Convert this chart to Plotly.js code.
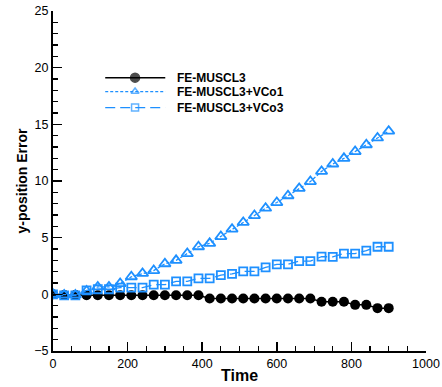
<!DOCTYPE html>
<html>
<head>
<meta charset="utf-8">
<script src="https://cdn.plot.ly/plotly-3.0.1.min.js"></script>
<style>html,body{margin:0;padding:0;background:#fff;}#chart{width:442px;height:387px;}</style>
</head>
<body>
<div id="chart"></div>
<script>
var time = [0,30,60,90,120,150,180,210,240,270,300,330,360,390,420,450,480,510,540,570,600,630,660,690,720,750,780,810,840,870,900];
var muscl3 = [0,-0.05,-0.05,-0.08,-0.08,-0.08,-0.08,-0.08,-0.08,-0.08,-0.08,-0.08,-0.08,-0.08,-0.37,-0.37,-0.37,-0.37,-0.37,-0.37,-0.37,-0.37,-0.37,-0.37,-0.65,-0.65,-0.65,-0.93,-0.93,-1.22,-1.22];
var vco1 = [0,-0.05,-0.05,0.3,0.65,0.65,0.95,1.55,1.85,2.1,2.7,3.0,3.6,4.2,4.5,5.1,5.75,6.35,6.95,7.6,8.1,8.7,9.35,9.95,10.85,11.5,12.0,12.6,13.2,13.8,14.4];
var vco3 = [0,-0.1,-0.1,0.35,0.45,0.45,0.6,0.6,0.6,0.85,0.85,1.15,1.15,1.4,1.4,1.7,1.8,2.02,2.02,2.37,2.65,2.65,2.93,2.93,3.33,3.3,3.6,3.6,3.86,4.2,4.2];
var names = ["FE-MUSCL3","FE-MUSCL3+VCo1","FE-MUSCL3+VCo3"];
var blue = "rgb(30,144,255)";

var traces = [
  {x: time, y: muscl3, mode: "lines+markers", name: names[0], showlegend: false,
   line: {color: "black", width: 1.5}, marker: {symbol: "circle", size: 10, color: "black"}},
  {x: time, y: vco1, mode: "lines+markers", name: names[1], showlegend: false,
   line: {color: blue, width: 1.3, dash: "3px,2px"},
   marker: {symbol: "triangle-up-open", size: 10, color: blue, line: {width: 1.8, color: blue}}},
  {x: time, y: vco3, mode: "lines+markers", name: names[2], showlegend: false,
   line: {color: blue, width: 1.3, dash: "10px,5px"},
   marker: {symbol: "square-open", size: 8, color: blue, line: {width: 1.8, color: blue}}}
];

// custom legend (paper coordinates of plot area)
var legX0 = 0.140, legX1 = 0.301, legXm = 0.220, legXt = 0.328;
var legY = [0.804, 0.763, 0.716];
var legDash = ["solid", "3px,2px", "10px,5px"];
var legColor = ["black", blue, blue];
var legSym = ["circle", "triangle-up-open", "square-open"];
var legSize = [9, 7, 7];

traces.push({
  x: [legXm, legXm, legXm], y: legY, xaxis: "x2", yaxis: "y2", mode: "markers",
  showlegend: false, hoverinfo: "skip",
  marker: {symbol: legSym, size: legSize, color: legColor, line: {width: 1.5, color: legColor}}
});

var shapes = [], annotations = [];
for (var i = 0; i < 3; i++) {
  shapes.push({type: "line", xref: "paper", yref: "paper", x0: legX0, x1: legX1, y0: legY[i], y1: legY[i],
    line: {color: legColor[i], width: i === 0 ? 1.5 : 1.3, dash: legDash[i]}});
  annotations.push({xref: "paper", yref: "paper", x: legXt, y: legY[i], xanchor: "left", yanchor: "middle",
    text: "<b>" + names[i] + "</b>", showarrow: false,
    font: {family: "Liberation Sans, Arial, sans-serif", size: 12, color: "black"}});
}

var layout = {
  width: 442, height: 387,
  margin: {l: 52.7, r: 16, t: 11, b: 35.7, pad: 0},
  paper_bgcolor: "white", plot_bgcolor: "white",
  font: {family: "Liberation Sans, Arial, sans-serif", size: 13, color: "black"},
  showlegend: false,
  xaxis: {
    range: [0, 1000], dtick: 200, tick0: 0,
    ticks: "inside", ticklen: 9, tickwidth: 1.5, tickcolor: "black",
    showline: true, linecolor: "black", linewidth: 2,
    showgrid: false, zeroline: false,
    minor: {dtick: 50, ticks: "inside", ticklen: 5, tickwidth: 1.2, tickcolor: "black"},
    title: {text: "<b>Time</b>", font: {size: 16}, standoff: 0},
    tickfont: {size: 12.5}
  },
  yaxis: {
    range: [-5, 25], dtick: 5, tick0: 0,
    ticks: "inside", ticklen: 9, tickwidth: 1.5, tickcolor: "black",
    showline: true, linecolor: "black", linewidth: 2,
    showgrid: false, zeroline: false,
    minor: {dtick: 1, ticks: "inside", ticklen: 5, tickwidth: 1.2, tickcolor: "black"},
    title: {text: "<b>y-position Error</b>", font: {size: 14}, standoff: 3},
    tickfont: {size: 12.5}
  },
  xaxis2: {overlaying: "x", range: [0, 1], visible: false, fixedrange: true},
  yaxis2: {overlaying: "y", range: [0, 1], visible: false, fixedrange: true},
  shapes: shapes,
  annotations: annotations
};

Plotly.newPlot("chart", traces, layout, {displayModeBar: false, staticPlot: true});
</script>
</body>
</html>
